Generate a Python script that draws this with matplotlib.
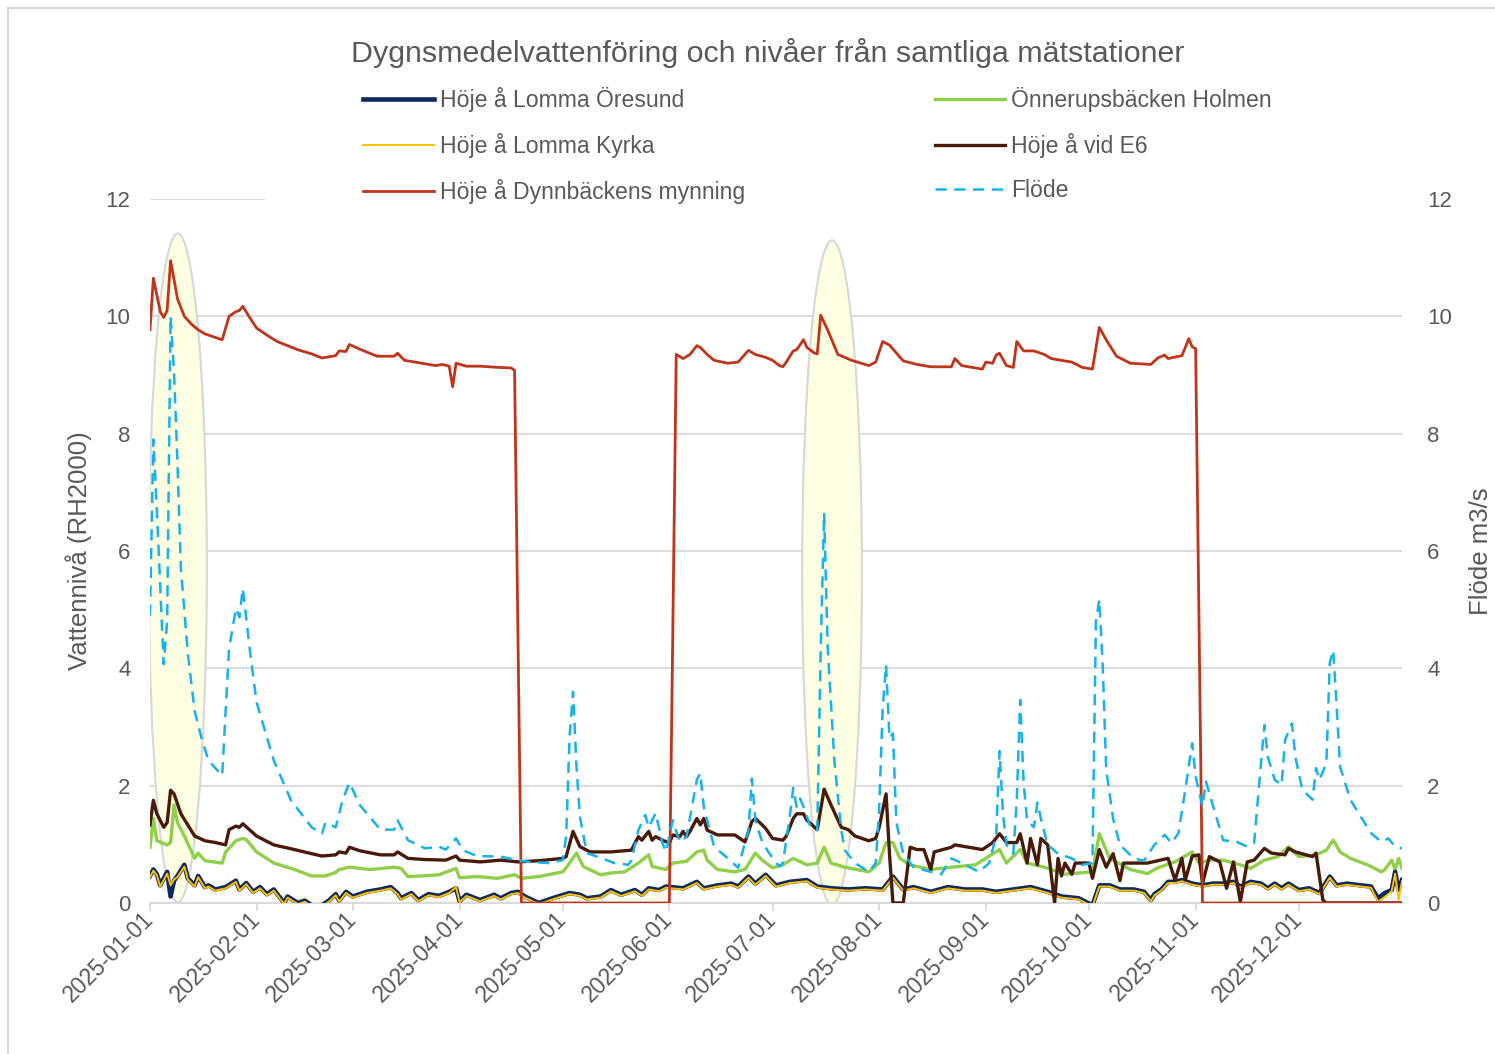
import numpy as np
import matplotlib
matplotlib.use("Agg")
import matplotlib.pyplot as plt
import matplotlib.dates as mdates
from matplotlib.patches import Ellipse, Rectangle
from matplotlib.lines import Line2D

plt.rcParams["font.family"] = ["Liberation Sans", "DejaVu Sans"]

GREY = "#595959"
start = np.datetime64("2025-01-01")

# day of year (0 = 1 Jan 2025) and daily mean values
oresund_day = [0, 1, 2, 3, 5, 6, 7, 8, 10, 11, 13, 14, 16, 17, 19, 22, 25, 26, 28, 30, 32, 34, 36, 39,
               40, 43, 45, 47, 50, 52, 54, 55, 57, 59, 63, 67, 70, 72, 73, 76, 78, 81, 84, 87, 89, 90,
               92, 96, 100, 102, 105, 107, 109, 113, 117, 122, 125, 127, 131, 134, 137, 141, 143, 145,
               148, 150, 155, 159, 161, 165, 169, 171, 174, 176, 179, 182, 186, 191, 194, 198, 203, 208,
               213, 216, 219, 222, 227, 232, 237, 242, 246, 251, 256, 261, 265, 270, 274, 276, 279, 282,
               286, 289, 291, 292, 294, 296, 298, 300, 303, 306, 309, 312, 315, 317, 320, 323, 325, 327,
               329, 331, 334, 337, 340, 343, 345, 348, 352, 355, 357, 359, 361, 362, 363, 364]
oresund_val = [0.46, 0.57, 0.49, 0.30, 0.53, 0.11, 0.38, 0.46, 0.65, 0.42, 0.30, 0.46, 0.27, 0.30, 0.23,
               0.27, 0.38, 0.23, 0.34, 0.19, 0.27, 0.15, 0.23, 0.00, 0.11, 0.00, 0.04, -0.04, -0.04, 0.04,
               0.15, 0.04, 0.19, 0.11, 0.19, 0.23, 0.27, 0.17, 0.08, 0.17, 0.05, 0.15, 0.12, 0.19, 0.25,
               0.03, 0.14, 0.05, 0.14, 0.08, 0.17, 0.19, 0.11, 0.00, 0.08, 0.17, 0.14, 0.08, 0.11, 0.22,
               0.14, 0.22, 0.14, 0.25, 0.22, 0.28, 0.25, 0.36, 0.25, 0.30, 0.33, 0.28, 0.45, 0.33, 0.48,
               0.30, 0.36, 0.39, 0.28, 0.25, 0.23, 0.25, 0.23, 0.45, 0.23, 0.27, 0.19, 0.27, 0.23, 0.23,
               0.19, 0.23, 0.27, 0.19, 0.11, 0.08, -0.04, 0.30, 0.30, 0.23, 0.23, 0.19, 0.05, 0.15, 0.23,
               0.36, 0.36, 0.39, 0.33, 0.30, 0.33, 0.33, 0.36, 0.28, 0.36, 0.33, 0.25, 0.33, 0.25, 0.33,
               0.22, 0.25, 0.17, 0.45, 0.30, 0.33, 0.30, 0.28, 0.08, 0.17, 0.22, 0.53, 0.22, 0.39]

kyrka_day = oresund_day
kyrka_val = [0.44, 0.55, 0.47, 0.28, 0.50, 0.30, 0.40, 0.44, 0.62, 0.40, 0.28, 0.44, 0.25, 0.28, 0.21,
             0.25, 0.36, 0.21, 0.32, 0.17, 0.25, 0.13, 0.21, -0.02, 0.09, -0.02, 0.02, -0.06, -0.06, 0.02,
             0.13, 0.02, 0.17, 0.09, 0.17, 0.21, 0.25, 0.15, 0.06, 0.15, 0.03, 0.13, 0.10, 0.17, 0.27,
             0.01, 0.12, 0.03, 0.12, 0.06, 0.15, 0.17, 0.09, -0.02, 0.06, 0.15, 0.12, 0.06, 0.09, 0.20,
             0.12, 0.20, 0.12, 0.23, 0.20, 0.26, 0.23, 0.34, 0.23, 0.28, 0.31, 0.26, 0.43, 0.31, 0.46,
             0.28, 0.34, 0.37, 0.26, 0.23, 0.21, 0.23, 0.21, 0.43, 0.21, 0.25, 0.17, 0.25, 0.21, 0.21,
             0.17, 0.21, 0.25, 0.17, 0.09, 0.06, -0.06, 0.28, 0.28, 0.21, 0.21, 0.17, 0.03, 0.13, 0.21,
             0.34, 0.34, 0.37, 0.31, 0.28, 0.31, 0.31, 0.34, 0.26, 0.34, 0.31, 0.23, 0.31, 0.23, 0.31,
             0.20, 0.23, 0.15, 0.43, 0.28, 0.31, 0.28, 0.26, 0.02, 0.10, 0.20, 0.50, 0.05, 0.37]

dynn_day = [0, 1, 3, 4, 5, 6, 8, 10, 12, 14, 16, 21, 23, 25, 26, 27, 29, 31, 34, 37, 40, 43, 47, 50,
            54, 55, 57, 58, 61, 66, 71, 72, 74, 79, 83, 85, 87, 88, 89, 92, 96, 101, 105, 106, 107,
            108, 151, 152, 153, 155, 157, 159, 160, 162, 164, 168, 171, 174, 176, 179, 181, 183, 184,
            185, 187, 188, 190, 191, 193, 194, 195, 197, 200, 204, 209, 211, 213, 215, 219, 223, 227,
            233, 234, 236, 242, 243, 245, 246, 247, 249, 251, 252, 254, 257, 260, 262, 268, 271, 274,
            276, 278, 281, 285, 291, 293, 295, 296, 300, 301, 302, 303, 304, 306, 364]
dynn_val = [9.77, 10.65, 10.08, 9.98, 10.10, 10.95, 10.30, 10.00, 9.87, 9.77, 9.70, 9.60, 10.00, 10.08,
            10.10, 10.17, 9.98, 9.80, 9.68, 9.57, 9.50, 9.43, 9.36, 9.29, 9.33, 9.41, 9.40, 9.52, 9.44,
            9.32, 9.32, 9.37, 9.25, 9.20, 9.16, 9.18, 9.15, 8.80, 9.20, 9.15, 9.15, 9.13, 9.12, 9.08,
            4.50, 0.00, 0.00, 4.60, 9.35, 9.28, 9.35, 9.50, 9.47, 9.35, 9.25, 9.20, 9.22, 9.42, 9.35,
            9.30, 9.25, 9.16, 9.14, 9.22, 9.41, 9.43, 9.60, 9.47, 9.38, 9.36, 10.02, 9.77, 9.35, 9.25,
            9.16, 9.22, 9.57, 9.51, 9.24, 9.18, 9.14, 9.14, 9.28, 9.16, 9.10, 9.22, 9.20, 9.34, 9.37,
            9.16, 9.13, 9.57, 9.41, 9.41, 9.35, 9.28, 9.22, 9.13, 9.10, 9.81, 9.60, 9.32, 9.20, 9.18,
            9.29, 9.34, 9.28, 9.33, 9.47, 9.62, 9.48, 9.45, 0.00, 0.00]

onnerup_day = [0, 1, 2, 5, 6, 7, 8, 10, 13, 14, 16, 21, 22, 25, 27, 28, 31, 36, 42, 47, 51, 54, 55, 58,
               64, 71, 73, 75, 79, 84, 89, 90, 95, 101, 106, 108, 113, 120, 121, 124, 126, 131, 134, 138,
               142, 145, 146, 150, 152, 156, 159, 161, 162, 165, 170, 173, 176, 178, 181, 184, 187, 191,
               194, 196, 198, 202, 209, 212, 214, 216, 218, 221, 227, 233, 240, 247, 249, 253, 255, 260,
               266, 274, 276, 279, 285, 290, 293, 298, 303, 305, 308, 312, 317, 320, 324, 328, 331, 334,
               339, 342, 344, 346, 349, 354, 358, 359, 361, 362, 363, 364]
onnerup_val = [0.95, 1.44, 1.06, 0.99, 1.03, 1.67, 1.37, 1.14, 0.76, 0.85, 0.72, 0.68, 0.87, 1.06, 1.10,
               1.08, 0.87, 0.68, 0.57, 0.46, 0.46, 0.52, 0.57, 0.61, 0.57, 0.61, 0.59, 0.45, 0.46, 0.48,
               0.59, 0.43, 0.45, 0.42, 0.48, 0.42, 0.45, 0.53, 0.60, 0.85, 0.62, 0.48, 0.51, 0.53, 0.68,
               0.82, 0.62, 0.57, 0.68, 0.71, 0.87, 0.90, 0.73, 0.57, 0.53, 0.57, 0.85, 0.73, 0.60, 0.65,
               0.76, 0.65, 0.68, 0.95, 0.68, 0.61, 0.53, 0.68, 1.03, 1.03, 0.76, 0.65, 0.57, 0.61, 0.65,
               0.91, 0.68, 0.91, 0.68, 0.61, 0.49, 0.53, 1.18, 0.76, 0.57, 0.50, 0.60, 0.70, 0.87, 0.68,
               0.73, 0.73, 0.65, 0.59, 0.73, 0.79, 0.96, 0.79, 0.82, 0.90, 1.07, 0.87, 0.76, 0.65, 0.53,
               0.57, 0.73, 0.57, 0.76, 0.59]

e6_day = [0, 1, 2, 4, 5, 6, 7, 9, 11, 13, 16, 19, 22, 23, 25, 26, 27, 31, 36, 42, 47, 50, 54, 55, 57, 58,
          61, 67, 71, 72, 75, 80, 86, 89, 90, 96, 102, 107, 113, 120, 121, 123, 125, 128, 134, 140, 141,
          142, 143, 145, 146, 147, 149, 151, 152, 154, 155, 156, 157, 159, 160, 161, 162, 165, 170, 173,
          175, 176, 178, 179, 181, 184, 185, 187, 188, 190, 191, 194, 196, 198, 201, 203, 205, 209, 211,
          212, 214, 215, 216, 219, 221, 223, 225, 227, 228, 233, 234, 238, 242, 245, 247, 249, 252, 253,
          255, 256, 258, 259, 261, 263, 264, 265, 266, 268, 269, 273, 274, 276, 278, 280, 282, 283, 286,
          290, 293, 296, 298, 300, 301, 303, 305, 306, 308, 311, 313, 315, 317, 319, 321, 324, 326, 330,
          331, 333, 338, 339, 341, 342, 364]
e6_val = [1.33, 1.75, 1.52, 1.29, 1.37, 1.92, 1.86, 1.52, 1.33, 1.14, 1.06, 1.03, 0.99, 1.25, 1.31, 1.29,
          1.35, 1.14, 0.99, 0.91, 0.84, 0.80, 0.82, 0.87, 0.85, 0.95, 0.89, 0.82, 0.82, 0.87, 0.76, 0.74,
          0.73, 0.80, 0.73, 0.70, 0.73, 0.70, 0.72, 0.76, 0.79, 1.22, 0.96, 0.87, 0.87, 0.90, 1.02, 1.13,
          1.07, 1.22, 1.07, 1.13, 1.07, 1.02, 1.16, 1.13, 1.22, 1.13, 1.22, 1.44, 1.33, 1.44, 1.24, 1.16,
          1.16, 1.04, 1.39, 1.44, 1.33, 1.27, 1.10, 1.07, 1.14, 1.44, 1.52, 1.52, 1.41, 1.25, 1.94, 1.67,
          1.29, 1.25, 1.14, 1.06, 1.10, 1.29, 1.86, 0.84, 0.00, 0.00, 0.95, 0.91, 0.91, 0.57, 0.87, 0.95,
          0.99, 0.95, 0.91, 1.03, 1.18, 1.03, 1.03, 1.18, 0.68, 1.10, 0.65, 1.10, 0.99, 0.00, 0.76, 0.46,
          0.68, 0.49, 0.68, 0.68, 0.42, 0.91, 0.61, 0.84, 0.38, 0.68, 0.68, 0.68, 0.72, 0.76, 0.39, 0.76,
          0.39, 0.80, 0.82, 0.33, 0.79, 0.70, 0.25, 0.70, 0.02, 0.70, 0.73, 0.93, 0.85, 0.82, 0.93, 0.87,
          0.79, 0.85, 0.05, 0.00, 0.00]

flode_day = [0, 1, 2, 3, 4, 5, 6, 7, 8, 9, 11, 13, 15, 17, 21, 22, 23, 25, 26, 27, 29, 31, 36, 41, 47,
             50, 51, 54, 56, 58, 61, 67, 71, 72, 75, 80, 84, 86, 89, 91, 95, 102, 106, 110, 116, 120, 121,
             122, 123, 124, 125, 127, 131, 135, 139, 140, 142, 144, 145, 147, 149, 150, 152, 154, 156, 159,
             160, 161, 164, 168, 171, 174, 175, 176, 178, 180, 183, 184, 186, 187, 188, 189, 190, 192, 194,
             195, 196, 197, 199, 201, 202, 205, 209, 211, 212, 213, 214, 215, 216, 217, 219, 222, 227, 230,
             233, 236, 241, 244, 246, 247, 248, 249, 251, 252, 253, 254, 255, 257, 258, 259, 261, 264, 268,
             271, 274, 275, 276, 277, 278, 280, 282, 286, 289, 292, 295, 297, 299, 301, 303, 304, 306, 307,
             310, 312, 316, 319, 321, 323, 324, 325, 327, 329, 330, 332, 333, 335, 338, 339, 340, 342, 343,
             344, 345, 346, 349, 352, 355, 358, 360, 362, 364]
flode_val = [4.90, 7.90, 6.70, 5.40, 4.07, 4.80, 10.00, 9.05, 7.50, 5.70, 4.26, 3.27, 2.81, 2.43, 2.17,
             3.27, 4.33, 5.02, 4.87, 5.36, 4.33, 3.42, 2.43, 1.75, 1.29, 1.18, 1.37, 1.29, 1.75, 2.05, 1.67,
             1.25, 1.25, 1.41, 1.07, 0.93, 0.96, 0.91, 1.10, 0.90, 0.80, 0.79, 0.74, 0.70, 0.68, 0.73, 1.13,
             2.83, 3.60, 2.32, 1.47, 0.85, 0.77, 0.68, 0.65, 0.73, 1.24, 1.50, 1.29, 1.53, 1.02, 0.87, 1.41,
             1.04, 1.13, 2.10, 2.21, 1.64, 0.96, 0.76, 0.60, 1.24, 2.12, 1.41, 1.04, 0.85, 0.62, 0.68, 1.47,
             1.96, 1.64, 1.78, 1.64, 1.30, 1.24, 4.30, 6.65, 4.40, 2.40, 1.24, 0.90, 0.68, 0.53, 0.68, 1.60,
             3.29, 4.06, 2.81, 2.89, 1.37, 0.84, 0.61, 0.53, 0.49, 0.76, 0.68, 0.53, 0.68, 1.14, 2.59, 1.52,
             0.99, 0.84, 1.75, 3.46, 2.05, 1.41, 1.29, 1.71, 1.44, 0.99, 0.84, 0.76, 0.65, 0.68, 4.79, 5.17,
             4.03, 2.28, 1.44, 0.99, 0.76, 0.72, 0.99, 1.16, 1.02, 1.19, 1.93, 2.72, 2.15, 1.64, 2.07, 1.47,
             1.07, 1.04, 0.96, 1.02, 2.38, 3.03, 2.49, 2.10, 2.01, 2.78, 3.06, 2.49, 1.93, 1.76, 2.30, 2.10,
             2.38, 4.09, 4.31, 3.35, 2.32, 1.76, 1.47, 1.19, 1.04, 1.10, 0.96, 0.93]


def dates(days):
    return start + np.array(days).astype("timedelta64[D]")


fig = plt.figure(figsize=(14.95, 10.54), dpi=100)
ax = fig.add_axes([0.1003, 0.1433, 0.8375, 0.6679])
ax2 = ax.twinx()

# grey frame around the chart area
fig.add_artist(Line2D([8 / 1495, 1], [1 - 8 / 1054, 1 - 8 / 1054], color="#d9d9d9", lw=1.5))
fig.add_artist(Line2D([8 / 1495, 8 / 1495], [0, 1 - 8 / 1054], color="#d9d9d9", lw=1.5))

# highlighted periods
t0 = mdates.date2num(start)
for cx, cy, w, h in [(t0 + 8.1, 5.71, 16.9, 11.4), (t0 + 198.3, 5.63, 17.4, 11.33)]:
    ax.add_patch(Ellipse((cx, cy), w, h, facecolor="#fefee3", edgecolor="#d9d9d9", lw=1.6, zorder=1))

l1, = ax.plot(dates(oresund_day), oresund_val, color="#0c2a5e", lw=3.3, zorder=3)
l3, = ax.plot(dates(kyrka_day), kyrka_val, color="#ffc000", lw=1.4, zorder=3.1)
l4, = ax.plot(dates(onnerup_day), onnerup_val, color="#8fcf4a", lw=2.4, zorder=2.9)
l5, = ax.plot(dates(e6_day), e6_val, color="#4a1a08", lw=2.4, zorder=3.2)
l2, = ax.plot(dates(dynn_day), dynn_val, color="#c0341a", lw=2.0, zorder=3.3)
l6, = ax2.plot(dates(flode_day), flode_val, color="#15b2ec", lw=1.8, dashes=(4.5, 3))

for a in (ax, ax2):
    a.set_ylim(0, 12)
    a.set_yticks(range(0, 13, 2))
    a.set_xlim(start, np.datetime64("2025-12-31"))
    for s in a.spines.values():
        s.set_visible(False)
    a.tick_params(axis="y", length=0, labelsize=16, labelcolor=GREY)
ax.spines["bottom"].set_visible(True)
ax.spines["bottom"].set_color("#d9d9d9")
ax.spines["bottom"].set_linewidth(1.3)
ax.tick_params(axis="y", pad=14)
ax2.tick_params(axis="y", pad=18)

ax.grid(axis="y", color="#d9d9d9", lw=1.3)
ax.set_axisbelow(True)
# legend box covers the top gridline
ax.add_patch(Rectangle((0.092, 11.9), 0.92, 0.2, transform=ax.get_yaxis_transform(),
                       facecolor="white", edgecolor="none", zorder=1.5, clip_on=False))

ax.xaxis.set_major_locator(mdates.MonthLocator())
ax.xaxis.set_major_formatter(mdates.DateFormatter("%Y-%m-%d"))
ax.tick_params(axis="x", length=6, color="#d9d9d9", width=1.3, labelsize=16.5, labelcolor=GREY, pad=3)
for lab in ax.get_xticklabels():
    lab.set_rotation(45)
    lab.set_ha("right")
    lab.set_va("center")
    lab.set_rotation_mode("anchor")

ax.set_ylabel("Vattennivå (RH2000)", fontsize=18.5, color=GREY, labelpad=10)
ax2.set_ylabel("Flöde m3/s", fontsize=18.5, color=GREY, labelpad=12)

fig.text(0.5137, 0.950, "Dygnsmedelvattenföring och nivåer från samtliga mätstationer",
         ha="center", va="center", fontsize=21.9, color=GREY)

handles = [l1, l3, l2, l4, l5, l6]
labels = ["Höje å Lomma Öresund", "Höje å Lomma Kyrka", "Höje å Dynnbäckens mynning",
          "Önnerupsbäcken Holmen", "Höje å vid E6", "Flöde"]
fig.legend(handles, labels, ncol=2, loc="upper left", bbox_to_anchor=(0.2354, 0.928),
           frameon=False, borderpad=0, fontsize=16.6, labelcolor=GREY, handlelength=3.04,
           handletextpad=0.26, columnspacing=8.24, labelspacing=0.9)

fig.savefig("out.png", dpi=100)
